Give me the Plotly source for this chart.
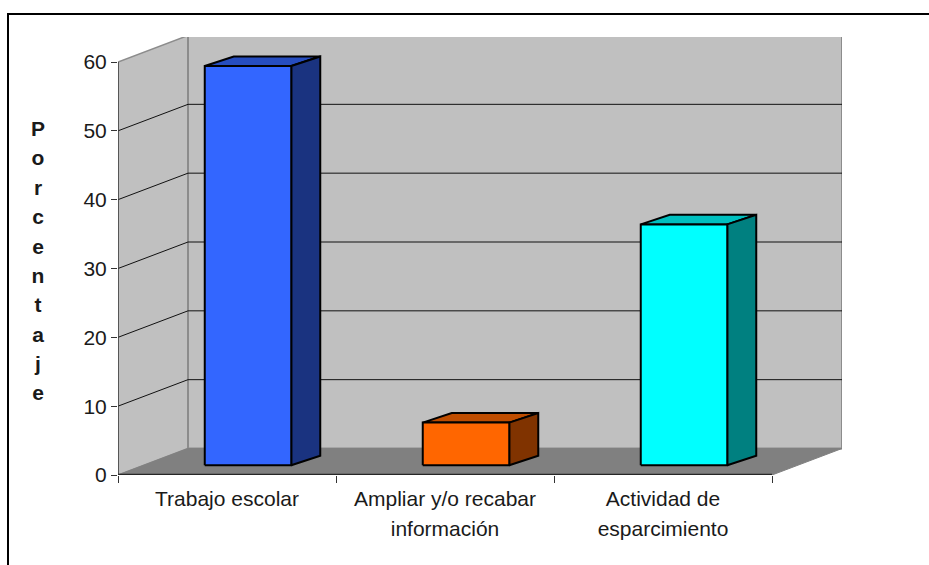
import plotly.graph_objects as go

categories = ["Trabajo escolar", "Ampliar y/o recabar<br>información", "Actividad de<br>esparcimiento"]
values = [58, 6.2, 35]
front_colors = ["#3366FF", "#FF6600", "#00FFFF"]
top_colors = ["#264DBF", "#BF4D00", "#00BFBF"]
side_colors = ["#1A3380", "#803300", "#008080"]
y_ticks = [0, 10, 20, 30, 40, 50, 60]
y_title = "Porcentaje"

W, H = 929, 565
PX_X, PX_Y = 218.0, 413 / 60       # pixels per category / per percent
DX, DY = 70 / PX_X, 26.5 / PX_Y    # wall depth in data units
BW = 86.5 / PX_X                   # bar width
BDX, BDY = 29 / PX_X, 9.6 / PX_Y   # bar depth
BSHIFT, BBASE = 21 / PX_X, 9.7 / PX_Y
XMAX, YMAX = len(categories), y_ticks[-1]
WALL, FLOOR, EDGE = "#C0C0C0", "#808080", "#8C8C8C"
FONT = "Liberation Sans, Arial, sans-serif"


def poly(xs, ys, fill, line, width):
    return go.Scatter(x=xs + xs[:1], y=ys + ys[:1], mode="lines", fill="toself", fillcolor=fill,
                      line=dict(color=line, width=width), hoverinfo="skip", showlegend=False,
                      cliponaxis=False)


def seg(xs, ys, color, width):
    return go.Scatter(x=xs, y=ys, mode="lines", line=dict(color=color, width=width),
                      hoverinfo="skip", showlegend=False, cliponaxis=False)


fig = go.Figure()
# walls and floor
fig.add_trace(poly([0, DX, DX, 0], [YMAX, YMAX + DY, DY, 0], WALL, EDGE, 1.5))
fig.add_trace(poly([DX, XMAX + DX, XMAX + DX, DX], [YMAX + DY, YMAX + DY, DY, DY], WALL, EDGE, 2))
fig.add_trace(poly([0, DX, XMAX + DX, XMAX], [0, DY, DY, 0], FLOOR, "#808080", 1))
# gridlines
for t in y_ticks[1:-1]:
    fig.add_trace(seg([0, DX, XMAX + DX], [t, t + DY, t + DY], "#111111", 1))
# axis lines
fig.add_trace(seg([0, 0], [0, YMAX], "#404040", 1.5))
fig.add_trace(seg([0, XMAX], [0, 0], "#262626", 2.5))
# bars
for i, v in enumerate(values):
    x0 = i + 0.5 + BSHIFT - BW / 2
    x1 = x0 + BW
    b = BBASE
    t = b + v
    fig.add_trace(poly([x0, x0 + BDX, x1 + BDX, x1], [t, t + BDY, t + BDY, t], top_colors[i], "#000000", 2))
    fig.add_trace(poly([x1, x1 + BDX, x1 + BDX, x1], [b, b + BDY, t + BDY, t], side_colors[i], "#000000", 2))
    fig.add_trace(poly([x0, x1, x1, x0], [b, b, t, t], front_colors[i], "#000000", 2))


def spaced(text, size):
    return "<br>".join(f"<span style='font-size:{size}px'>{p}</span>" for p in text.split("<br>"))


fig.update_layout(
    width=W, height=H, autosize=False, margin=dict(l=0, r=0, t=0, b=0, pad=0, autoexpand=False),
    paper_bgcolor="white", plot_bgcolor="rgba(0,0,0,0)", showlegend=False,
    font=dict(family=FONT, color="#1A1A1A"),
    xaxis=dict(domain=[118 / W, 842 / W], range=[0, (842 - 118) / PX_X], showgrid=False, zeroline=False,
               showline=False, tickmode="array", tickvals=[i + 0.5 for i in range(len(categories))],
               ticktext=[spaced(c, 21) for c in categories], ticks="", tickfont=dict(size=23),
               ticklabelstandoff=7, automargin=False,
               minor=dict(tick0=0, dtick=1, ticks="outside", ticklen=7, tickwidth=1, tickcolor="#333333", showgrid=False)),
    yaxis=dict(domain=[1 - 475 / H, 1 - 37 / H], range=[0, (475 - 37) / PX_Y], showgrid=False, zeroline=False,
               showline=False, tickmode="array", tickvals=y_ticks, ticks="outside", ticklen=6, tickwidth=1,
               tickcolor="#333333", tickfont=dict(size=21), ticklabelstandoff=0, automargin=False),
    shapes=[dict(type="path", xref="paper", yref="paper", line=dict(color="black", width=2),
                 path=f"M {8 / W} 0 L {8 / W} {1 - 14 / H} L 1 {1 - 14 / H}")],
    annotations=[dict(xref="paper", yref="paper", x=38 / W, y=1 - 260 / H, showarrow=False, xanchor="center",
                      yanchor="middle", align="center", font=dict(size=22.6, family=FONT, color="#1A1A1A"),
                      text="<br>".join(f"<b><span style='font-size:21px'>{c}</span></b>" for c in y_title))],
)

fig.write_html("out.html", config={"displayModeBar": False},
               post_script="document.body.style.margin='0';document.body.style.overflow='hidden';")
